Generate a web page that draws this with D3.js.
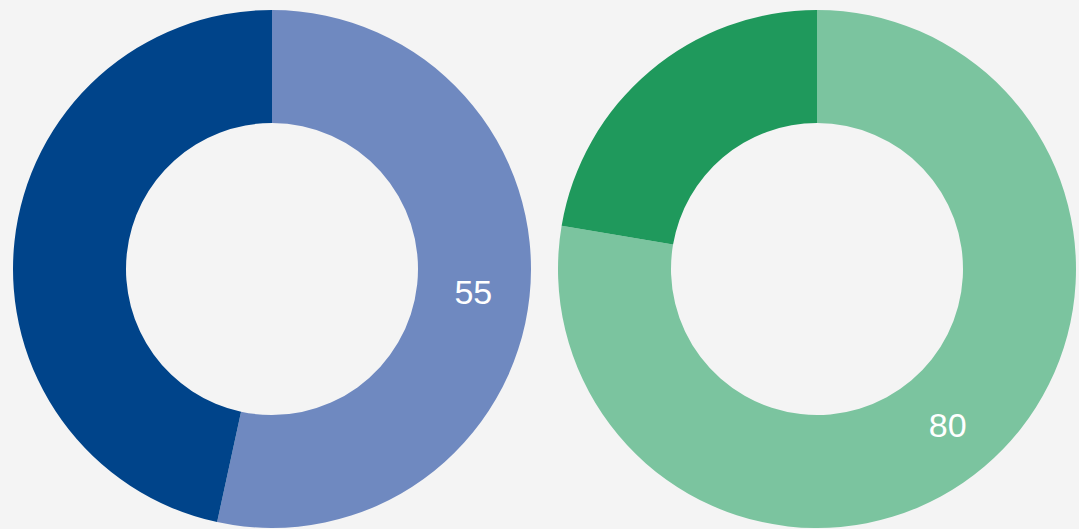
<!DOCTYPE html>
<html>
<head>
<meta charset="utf-8">
<script src="https://cdn.jsdelivr.net/npm/d3@7"></script>
<style>
  html, body { margin: 0; padding: 0; background: #f4f4f4; }
  svg { display: block; }
</style>
</head>
<body>
<div id="chart"></div>
<script>
const F_WIDTH = 1079;
const F_HEIGHT = 529;

// donut data (first slice is labelled)
const LEFT_VALUES = [55, 48];
const LEFT_COLORS = ["#6f89c0", "#00448a"];
const RIGHT_VALUES = [80, 23];
const RIGHT_COLORS = ["#7bc49f", "#1f995c"];
const LABELS_SHOWN = [true, false];

const OUTER_R = 259;
const INNER_R = 146;

const FRAME = d3.select("#chart")
  .append("svg")
    .attr("width", F_WIDTH)
    .attr("height", F_HEIGHT);

FRAME.append("rect")
  .attr("width", F_WIDTH)
  .attr("height", F_HEIGHT)
  .attr("fill", "#f4f4f4");

const pie = d3.pie().sort(null).value(d => d);
const arc = d3.arc().innerRadius(INNER_R).outerRadius(OUTER_R);

function donut(cx, cy, values, colors) {
  const g = FRAME.append("g")
    .attr("transform", "translate(" + cx + "," + cy + ")");

  const arcs = pie(values);

  g.selectAll("path")
    .data(arcs)
    .enter()
    .append("path")
      .attr("d", arc)
      .attr("fill", (d, i) => colors[i]);

  g.selectAll("text")
    .data(arcs.filter((d, i) => LABELS_SHOWN[i]))
    .enter()
    .append("text")
      .attr("transform", d => "translate(" + arc.centroid(d) + ")")
      .attr("text-anchor", "middle")
      .attr("dy", "0.4em")
      .attr("fill", "#ffffff")
      .style("font-family", "'Liberation Sans', Arial, sans-serif")
      .style("font-size", "34px")
      .text(d => d.data);
}

donut(272, 269, LEFT_VALUES, LEFT_COLORS);
donut(817, 269, RIGHT_VALUES, RIGHT_COLORS);
</script>
</body>
</html>
